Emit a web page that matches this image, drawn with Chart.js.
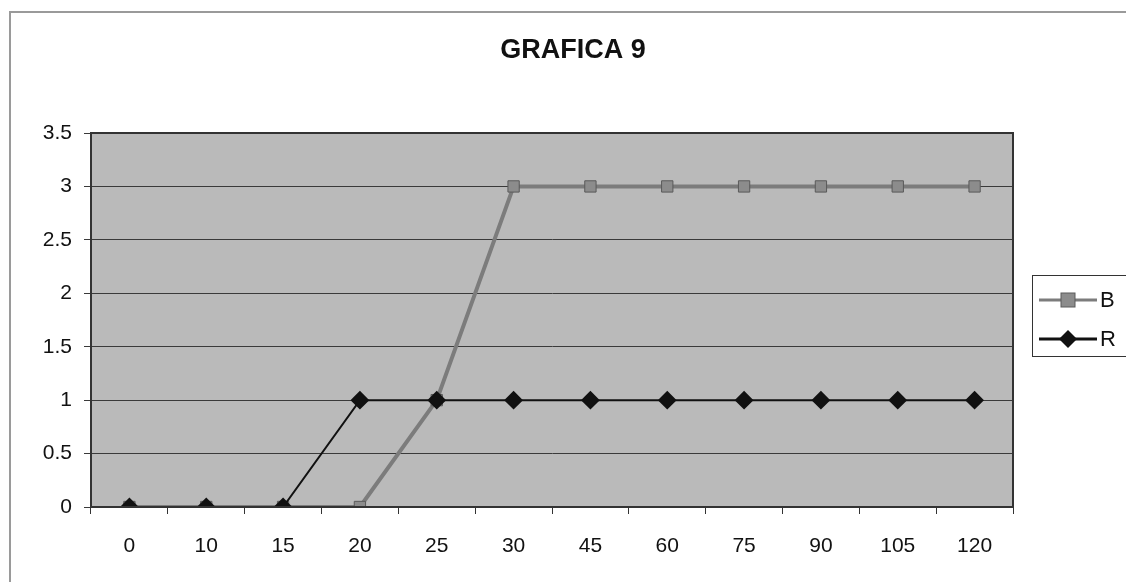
<!DOCTYPE html>
<html>
<head>
<meta charset="utf-8">
<script src="https://cdn.jsdelivr.net/npm/chart.js@4"></script>
<style>
  html, body { margin: 0; padding: 0; background: #fff; }
  #wrap { width: 1126px; height: 582px; position: relative; }
</style>
</head>
<body>
<div id="wrap"><canvas id="chart" width="1126" height="582"></canvas></div>
<script>
// =========================
// DATA
// =========================
const titleText = "GRAFICA 9";
const categories = ["0", "10", "15", "20", "25", "30", "45", "60", "75", "90", "105", "120"];
const seriesB = [0, 0, 0, 0, 1, 3, 3, 3, 3, 3, 3, 3];
const seriesR = [0, 0, 0, 1, 1, 1, 1, 1, 1, 1, 1, 1];
const yTicks = [0, 0.5, 1, 1.5, 2, 2.5, 3, 3.5];

const FONT = "Arial, 'Liberation Sans', sans-serif";

// =========================
// PLUGIN: frame, plot bg, title, legend
// =========================
const decor = {
  id: "decor",
  beforeDraw(chart) {
    const { ctx, chartArea: a } = chart;
    ctx.save();
    // outer frame
    ctx.strokeStyle = "#9a9a9a";
    ctx.lineWidth = 2;
    ctx.beginPath();
    ctx.moveTo(10, 582);
    ctx.lineTo(10, 12);
    ctx.lineTo(1126, 12);
    ctx.stroke();
    // plot area
    ctx.fillStyle = "#bababa";
    ctx.fillRect(a.left, a.top, a.right - a.left, a.bottom - a.top);
    ctx.restore();
  },
  afterDraw(chart) {
    const { ctx, chartArea: a } = chart;
    ctx.save();
    // plot border
    ctx.strokeStyle = "#333";
    ctx.lineWidth = 2;
    ctx.strokeRect(a.left, a.top, a.right - a.left, a.bottom - a.top);

    // title
    ctx.fillStyle = "#111";
    ctx.font = "bold 27px " + FONT;
    ctx.textAlign = "center";
    ctx.textBaseline = "middle";
    ctx.fillText(titleText, 573, 51);

    // legend
    ctx.fillStyle = "#fff";
    ctx.fillRect(1032, 275, 100, 81);
    ctx.strokeStyle = "#333";
    ctx.lineWidth = 1;
    ctx.strokeRect(1032.5, 275.5, 100, 81);
    chart.data.datasets.forEach((ds, i) => {
      const y = 300 + i * 39;
      ctx.strokeStyle = ds.borderColor;
      ctx.lineWidth = 3;
      ctx.beginPath();
      ctx.moveTo(1039, y);
      ctx.lineTo(1097, y);
      ctx.stroke();
      const x = 1068;
      ctx.fillStyle = ds.pointBackgroundColor;
      ctx.strokeStyle = ds.pointBorderColor;
      ctx.lineWidth = 1;
      if (ds.pointStyle === "rectRot") {
        ctx.beginPath();
        ctx.moveTo(x, y - 9);
        ctx.lineTo(x + 9, y);
        ctx.lineTo(x, y + 9);
        ctx.lineTo(x - 9, y);
        ctx.closePath();
        ctx.fill();
      } else {
        ctx.fillRect(x - 7, y - 7, 14, 14);
        ctx.strokeRect(x - 7, y - 7, 14, 14);
      }
      ctx.fillStyle = "#111";
      ctx.font = "22px " + FONT;
      ctx.textAlign = "left";
      ctx.textBaseline = "middle";
      ctx.fillText(ds.label, 1100, y + 1);
    });
    ctx.restore();
  }
};

// =========================
// CHART
// =========================
new Chart(document.getElementById("chart"), {
  type: "line",
  data: {
    labels: categories,
    datasets: [
      {
        label: "B",
        data: seriesB,
        order: 1,
        borderColor: "#7c7c7c",
        borderWidth: 4,
        pointStyle: "rect",
        pointRadius: 8,
        pointBackgroundColor: "#8c8c8c",
        pointBorderColor: "#5a5a5a",
        pointBorderWidth: 1,
        tension: 0
      },
      {
        label: "R",
        data: seriesR,
        order: 0,
        borderColor: "#111",
        borderWidth: 2,
        pointStyle: "rectRot",
        pointRadius: 8,
        pointBackgroundColor: "#111",
        pointBorderColor: "#111",
        tension: 0
      }
    ]
  },
  options: {
    responsive: false,
    animation: false,
    layout: { padding: { top: 133, right: 113, left: 0, bottom: 0 } },
    plugins: {
      legend: { display: false },
      title: { display: false },
      tooltip: { enabled: false }
    },
    scales: {
      x: {
        offset: true,
        afterFit(s) { s.height = 75; },
        grid: {
          display: true,
          offset: true,
          drawOnChartArea: false,
          drawTicks: true,
          tickLength: 7,
          color: "#333"
        },
        border: { display: true, color: "#333", width: 2 },
        ticks: {
          color: "#111",
          padding: 20,
          font: { family: FONT, size: 21 }
        }
      },
      y: {
        min: 0,
        max: 3.5,
        afterFit(s) { s.width = 91; },
        afterBuildTicks(s) { s.ticks = yTicks.map(v => ({ value: v })); },
        grid: {
          color: "#3a3a3a",
          lineWidth: 1,
          tickLength: 7,
          drawTicks: true
        },
        border: { display: true, color: "#333", width: 2 },
        ticks: {
          color: "#111",
          padding: 12,
          font: { family: FONT, size: 21 },
          callback: v => String(v)
        }
      }
    }
  },
  plugins: [decor]
});
</script>
</body>
</html>
